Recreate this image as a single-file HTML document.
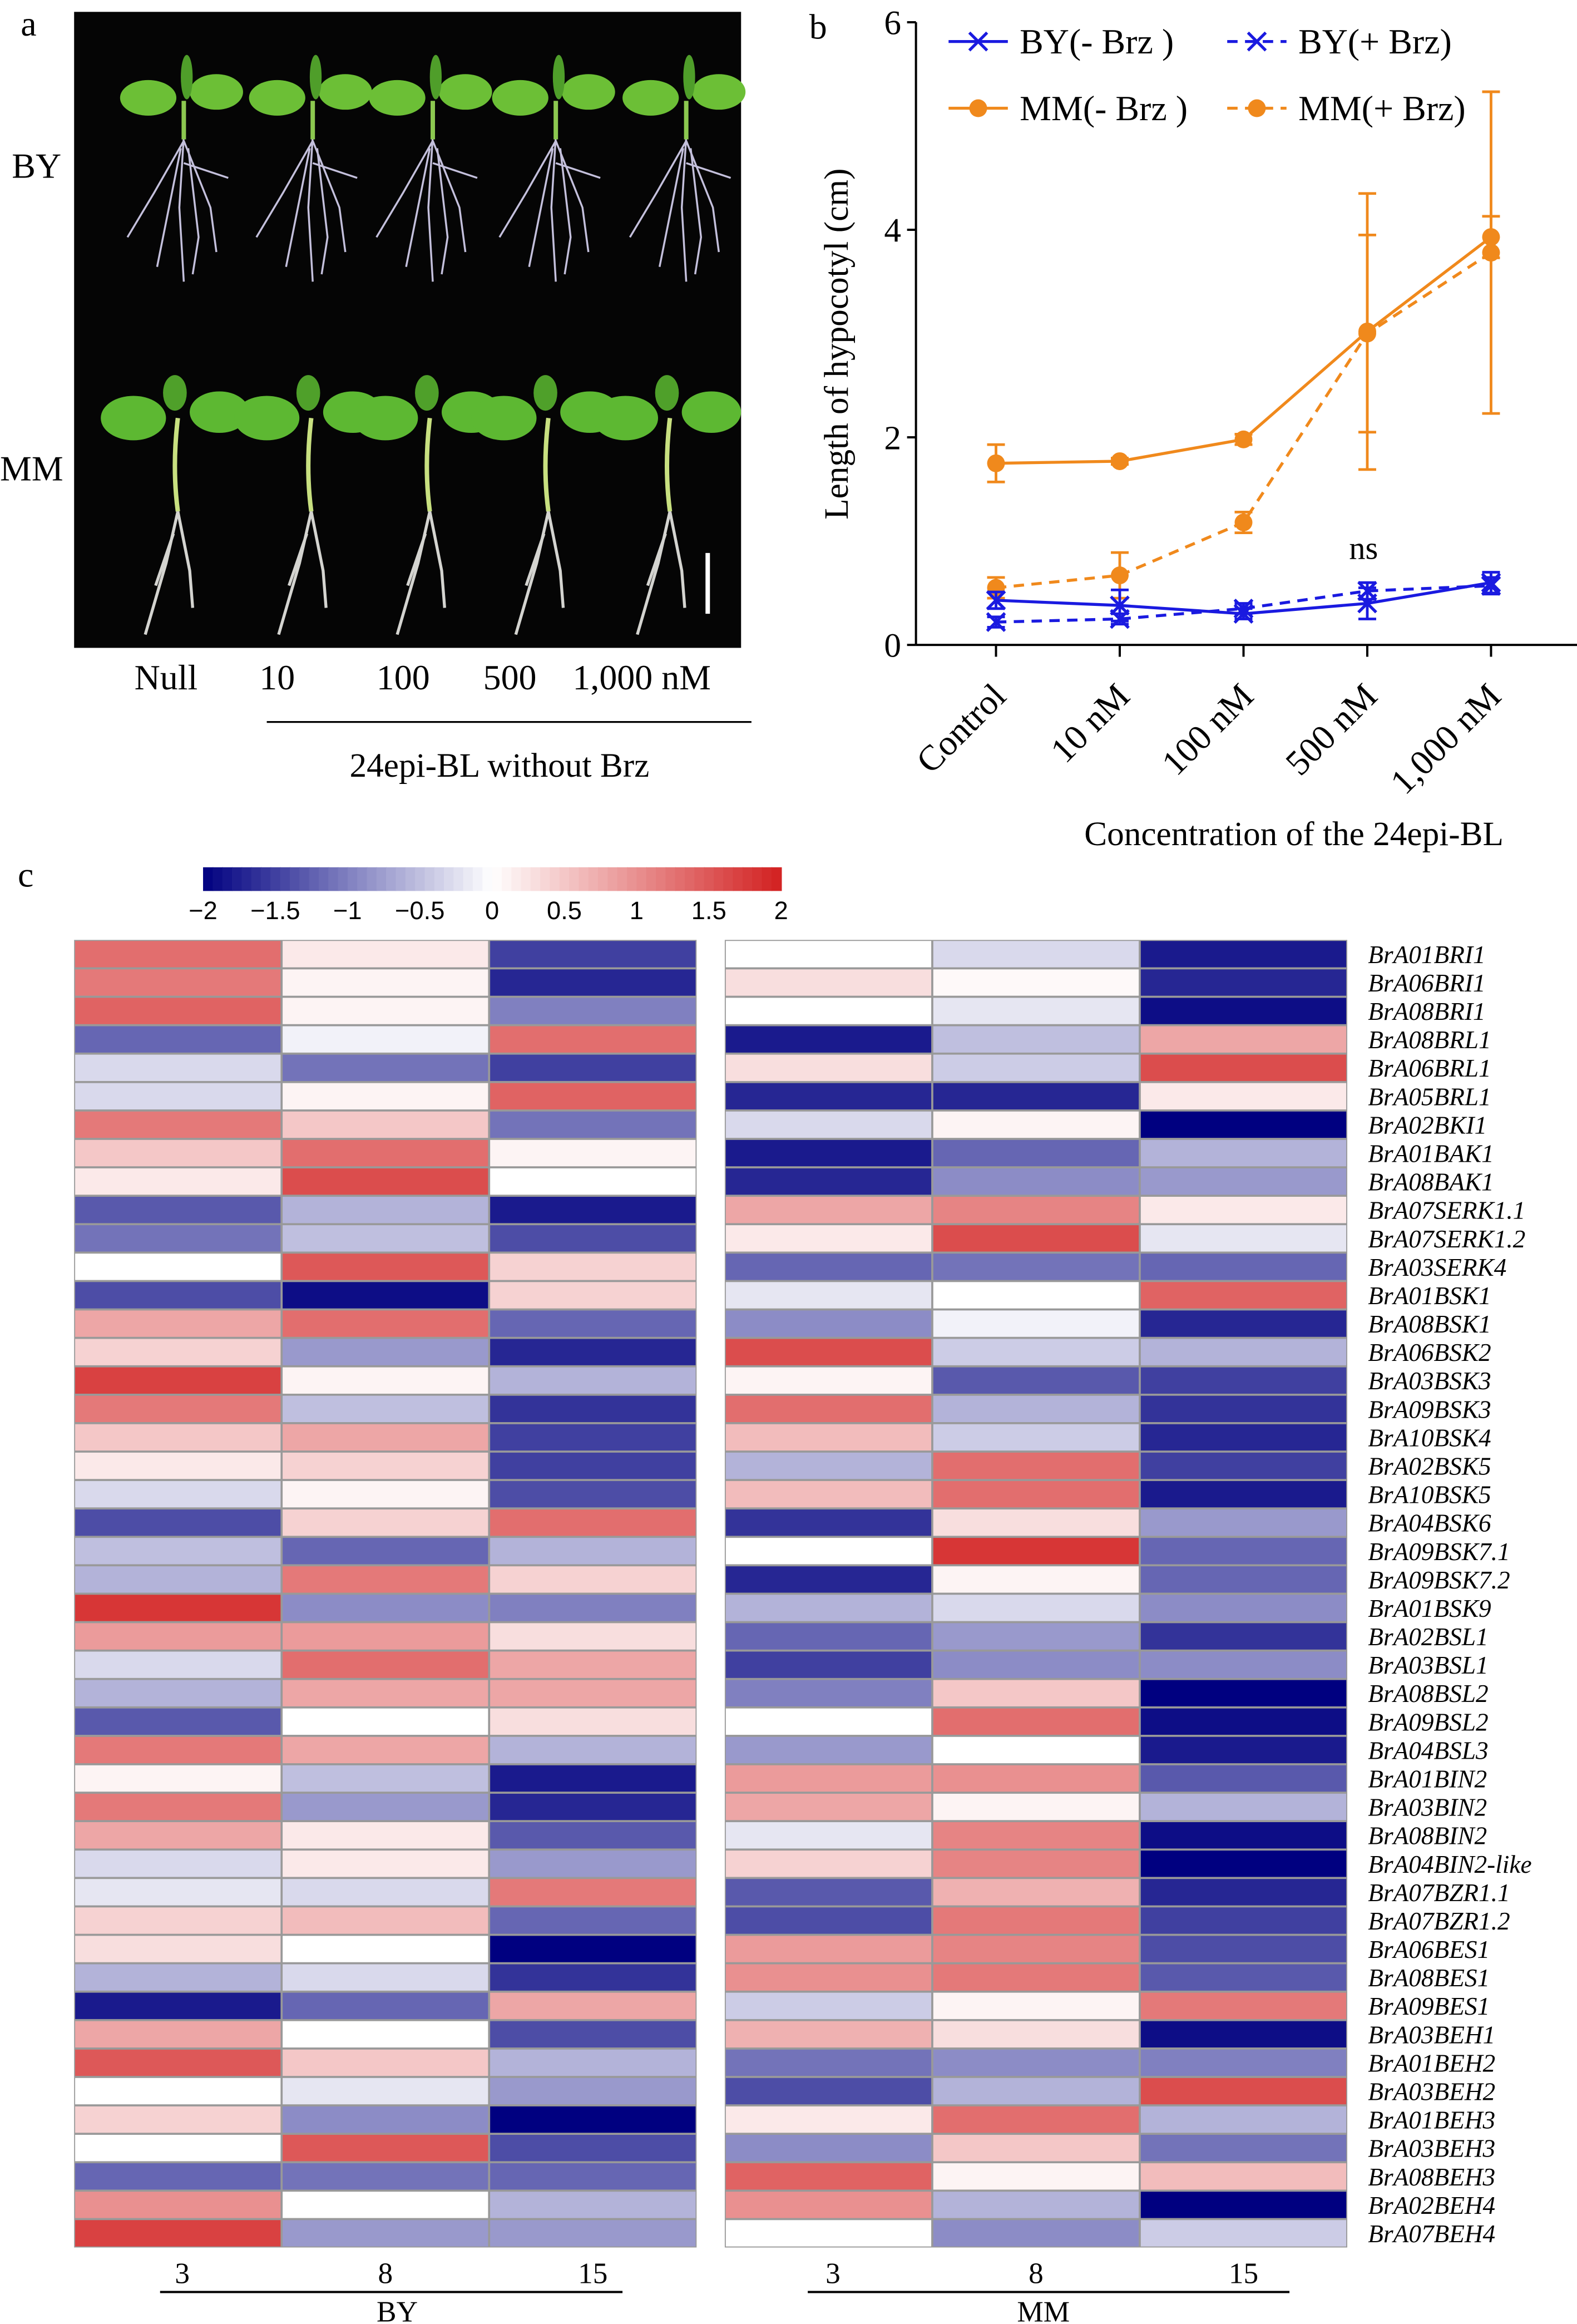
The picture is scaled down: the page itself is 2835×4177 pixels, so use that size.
<!DOCTYPE html>
<html><head><meta charset="utf-8">
<style>
html,body{margin:0;padding:0;background:#fff;}
svg{display:block;}
text{font-family:"Liberation Serif",serif;fill:#000;}
</style></head>
<body>
<svg id="fig" xmlns="http://www.w3.org/2000/svg" width="2835" height="4177" viewBox="0 0 1064 1567.6" preserveAspectRatio="none">
<g id="panelA">
  <text x="14" y="24" font-size="24">a</text>
  <rect x="50" y="8" width="450" height="429" fill="#050505"/>
  <text x="8" y="120" font-size="24">BY</text>
  <text x="0" y="324" font-size="24">MM</text>
  <rect x="476" y="373" width="3" height="41" fill="#fff"/>
  <g id="seedlings"></g>
  <text x="112" y="465" font-size="24" text-anchor="middle">Null</text>
  <text x="187" y="465" font-size="24" text-anchor="middle">10</text>
  <text x="272" y="465" font-size="24" text-anchor="middle">100</text>
  <text x="344" y="465" font-size="24" text-anchor="middle">500</text>
  <text x="433" y="465" font-size="24" text-anchor="middle">1,000 nM</text>
  <line x1="180" y1="487" x2="507" y2="487" stroke="#000" stroke-width="1.2"/>
  <text x="337" y="524" font-size="23" text-anchor="middle">24epi-BL without Brz</text>
</g>
<g id="panelB">
  <text x="546" y="26" font-size="24">b</text>
</g>
<g id="panelC">
  <text x="12" y="598" font-size="24">c</text>
</g>
</svg>
<script>
// ---------- Panel B data ----------
const categories = ["Control","10 nM","100 nM","500 nM","1,000 nM"];
const yTicks = [0,2,4,6];
const byMinus = [0.43,0.38,0.30,0.40,0.60];
const byMinusErr = [0.08,0.15,0.05,0.15,0.10];
const byPlus = [0.22,0.25,0.35,0.52,0.57];
const byPlusErr = [0.05,0.05,0.05,0.08,0.08];
const mmMinus = [1.75,1.77,1.98,3.02,3.93];
const mmMinusErr = [0.18,0.03,0.05,1.33,0.20];
const mmPlus = [0.55,0.67,1.18,3.00,3.78];
const mmPlusErr = [0.10,0.22,0.10,0.95,1.55];

// ---------- Panel C data ----------
const genes = ["BrA01BRI1","BrA06BRI1","BrA08BRI1","BrA08BRL1","BrA06BRL1","BrA05BRL1","BrA02BKI1","BrA01BAK1","BrA08BAK1","BrA07SERK1.1","BrA07SERK1.2","BrA03SERK4","BrA01BSK1","BrA08BSK1","BrA06BSK2","BrA03BSK3","BrA09BSK3","BrA10BSK4","BrA02BSK5","BrA10BSK5","BrA04BSK6","BrA09BSK7.1","BrA09BSK7.2","BrA01BSK9","BrA02BSL1","BrA03BSL1","BrA08BSL2","BrA09BSL2","BrA04BSL3","BrA01BIN2","BrA03BIN2","BrA08BIN2","BrA04BIN2-like","BrA07BZR1.1","BrA07BZR1.2","BrA06BES1","BrA08BES1","BrA09BES1","BrA03BEH1","BrA01BEH2","BrA03BEH2","BrA01BEH3","BrA03BEH3","BrA08BEH3","BrA02BEH4","BrA07BEH4"];
const timeLabels = ["3","8","15"];
const colorTicks = [-2,-1.5,-1,-0.5,0,0.5,1,1.5,2];
const byValues = [
[1.3,0.2,-1.5],[1.2,0.1,-1.7],[1.4,0.1,-1.0],[-1.2,-0.1,1.3],[-0.3,-1.1,-1.5],[-0.3,0.1,1.4],[1.2,0.5,-1.1],[0.5,1.3,0.1],[0.2,1.6,0],
[-1.3,-0.6,-1.8],[-1.1,-0.5,-1.4],[0,1.5,0.4],[-1.4,-1.9,0.4],[0.8,1.3,-1.2],[0.4,-0.8,-1.7],[1.7,0.1,-0.6],[1.2,-0.5,-1.6],[0.5,0.8,-1.5],
[0.2,0.4,-1.5],[-0.3,0.1,-1.4],[-1.4,0.4,1.3],[-0.5,-1.2,-0.6],[-0.6,1.2,0.4],[1.8,-0.9,-1.0],[0.9,0.9,0.3],[-0.3,1.3,0.8],[-0.6,0.8,0.8],
[-1.3,0,0.3],[1.2,0.8,-0.6],[0.1,-0.5,-1.8],[1.2,-0.8,-1.7],[0.8,0.2,-1.3],[-0.3,0.2,-0.8],[-0.2,-0.3,1.2],[0.4,0.6,-1.2],[0.3,0,-2.0],
[-0.6,-0.3,-1.6],[-1.8,-1.2,0.8],[0.8,0,-1.4],[1.5,0.5,-0.6],[0,-0.2,-0.8],[0.4,-0.9,-2.0],[0,1.5,-1.4],[-1.2,-1.1,-1.2],[1.0,0,-0.6],[1.7,-0.8,-0.8]];
const mmValues = [
[0,-0.3,-1.8],[0.3,0.05,-1.7],[0,-0.2,-1.9],[-1.8,-0.5,0.8],[0.3,-0.4,1.6],[-1.7,-1.7,0.2],[-0.3,0.1,-2.0],[-1.8,-1.2,-0.6],[-1.7,-0.9,-0.8],
[0.8,1.1,0.2],[0.2,1.6,-0.2],[-1.2,-1.1,-1.2],[-0.2,0,1.4],[-0.9,-0.1,-1.7],[1.6,-0.4,-0.6],[0.1,-1.3,-1.5],[1.3,-0.6,-1.6],[0.6,-0.4,-1.7],
[-0.6,1.3,-1.5],[0.6,1.3,-1.8],[-1.6,0.3,-0.8],[0,1.8,-1.2],[-1.7,0.1,-1.2],[-0.6,-0.3,-0.9],[-1.2,-0.8,-1.6],[-1.5,-0.9,-0.9],[-1.0,0.5,-2.0],
[0,1.3,-1.9],[-0.8,0,-1.8],[0.9,1.0,-1.3],[0.8,0.1,-0.6],[-0.2,1.1,-1.9],[0.4,1.1,-2.0],[-1.3,0.7,-1.7],[-1.4,1.2,-1.5],[0.9,1.1,-1.4],
[1.0,1.2,-1.3],[-0.4,0.1,1.2],[0.7,0.3,-1.9],[-1.1,-0.9,-1.0],[-1.4,-0.6,1.6],[0.2,1.3,-0.6],[-0.9,0.5,-1.1],[1.4,0.1,0.6],[1.0,-0.6,-2.0],[0,-0.9,-0.4]];

const NS="http://www.w3.org/2000/svg";
function mk(tag,attrs,parent){const e=document.createElementNS(NS,tag);for(const k in attrs)e.setAttribute(k,attrs[k]);parent.appendChild(e);return e;}

// ---------- Seedlings (photo approximation) ----------
const sd=document.getElementById('seedlings');
const byX=[124,211,292,375,463], mmX=[120,210,290,370,452];
byX.forEach((x,i)=>{
  const g=mk('g',{},sd);
  
  
  mk('path',{d:`M${x} 92 L${x-3} 140 L${x} 190 M${x} 95 L${x-20} 130 L${x-38} 160 M${x} 95 L${x+18} 140 L${x+22} 170 M${x-2} 100 L${x-12} 150 L${x-18} 180 M${x+3} 100 L${x+10} 160 L${x+6} 185 M${x} 110 L${x+30} 120`,stroke:'#c4c0dc','stroke-width':1.3,fill:'none'},g);
  mk('line',{x1:x,y1:68,x2:x,y2:94,stroke:'#8cc850','stroke-width':3},g);
  mk('ellipse',{cx:x-24,cy:66,rx:19,ry:12,fill:'#6cbf36'},g);
  mk('ellipse',{cx:x+22,cy:62,rx:18,ry:12,fill:'#6cbf36'},g);
  mk('ellipse',{cx:x+2,cy:52,rx:4,ry:15,fill:'#4f9e2a'},g);
});
mmX.forEach((x,i)=>{
  const g=mk('g',{},sd);
  
  
  mk('path',{d:`M${x} 282 Q${x-4} 315 ${x} 345`,stroke:'#c8e080','stroke-width':3,fill:'none'},g);
  mk('path',{d:`M${x} 345 L${x-8} 380 L${x-22} 428 M${x} 345 L${x+8} 385 L${x+10} 410 M${x-3} 360 L${x-15} 395`,stroke:'#d4d4d0','stroke-width':2,fill:'none'},g);
  mk('ellipse',{cx:x-30,cy:282,rx:22,ry:15,fill:'#5db832'},g);
  mk('ellipse',{cx:x+28,cy:278,rx:20,ry:14,fill:'#5db832'},g);
  mk('ellipse',{cx:x-2,cy:265,rx:8,ry:12,fill:'#4fa02a'},g);
});

// ---------- Panel B ----------
const pB=document.getElementById('panelB');
const x0=618, xEnd=1064, yBase=435, yPerUnit=70;
const catX=i=>672+i*83.5;
const yS=v=>yBase-v*yPerUnit;
mk('line',{x1:x0,y1:yS(6),x2:x0,y2:yBase,stroke:'#000','stroke-width':1.5},pB);
mk('line',{x1:x0,y1:yBase,x2:xEnd,y2:yBase,stroke:'#000','stroke-width':1.5},pB);
yTicks.forEach(t=>{
  const l=mk('line',{x1:x0-6,y1:yS(t),x2:x0,y2:yS(t),stroke:'#000','stroke-width':1.5},pB);
  
  
  const tx=mk('text',{x:x0-10,y:yS(t)+8,'font-size':23,'text-anchor':'end'},pB);
  tx.textContent=t;
  
  
});
categories.forEach((c,i)=>{
  const l=mk('line',{x1:catX(i),y1:yBase,x2:catX(i),y2:yBase+8,stroke:'#000','stroke-width':1.5},pB);
  
  
  const ax=catX(i)+8, ay=yBase+36;
  const tx=mk('text',{x:ax,y:ay,'font-size':24,'text-anchor':'end',transform:`rotate(-45 ${ax} ${ay})`},pB);
  tx.textContent=c;
  
  
});
const yt=mk('text',{x:572,y:232,'font-size':23,'text-anchor':'middle',transform:'rotate(-90 572 232)'},pB);
yt.textContent='Length of hypocotyl (cm)';


const xt=mk('text',{x:873,y:570,'font-size':23,'text-anchor':'middle'},pB);
xt.textContent='Concentration of the 24epi-BL';


const ns=mk('text',{x:920,y:377,'font-size':22,'text-anchor':'middle'},pB);
ns.textContent='ns';



const BLUE='#1a1ae0', ORANGE='#f0891c';
function drawSeries(vals,errs,color,dash,marker,name){
  const g=mk('g',{},pB);
  
  
  mk('polyline',{points:vals.map((v,i)=>catX(i)+','+yS(v)).join(' '),fill:'none',stroke:color,'stroke-width':2,'stroke-dasharray':dash?'7 5':'none'},g);
  vals.forEach((v,i)=>{
    const x=catX(i), t=yS(v+errs[i]), b=yS(v-errs[i]);
    const eb=mk('path',{d:`M${x} ${t} L${x} ${b} M${x-6} ${t} L${x+6} ${t} M${x-6} ${b} L${x+6} ${b}`,stroke:color,'stroke-width':1.8,fill:'none'},g);
    
    
    let m;
    if(marker==='o'){m=mk('circle',{cx:x,cy:yS(v),r:6,fill:color},g);}
    else{const y=yS(v);m=mk('path',{d:`M${x-6} ${y-6}L${x+6} ${y+6}M${x-6} ${y+6}L${x+6} ${y-6}`,stroke:color,'stroke-width':2},g);}
    
    
  });
}
drawSeries(mmMinus,mmMinusErr,ORANGE,false,'o','series-mm-minus-brz');
drawSeries(mmPlus,mmPlusErr,ORANGE,true,'o','series-mm-plus-brz');
drawSeries(byMinus,byMinusErr,BLUE,false,'x','series-by-minus-brz');
drawSeries(byPlus,byPlusErr,BLUE,true,'x','series-by-plus-brz');

// legend
const legendItems=[["BY(- Brz )",BLUE,false,'x',640,28],["BY(+ Brz)",BLUE,true,'x',828,28],["MM(- Brz )",ORANGE,false,'o',640,73],["MM(+ Brz)",ORANGE,true,'o',828,73]];
legendItems.forEach(it=>{
  const g=mk('g',{},pB);
  
  
  const [lab,col,dash,mkr,lx,ly]=it;
  mk('line',{x1:lx,y1:ly,x2:lx+40,y2:ly,stroke:col,'stroke-width':2,'stroke-dasharray':dash?'7 5':'none'},g);
  if(mkr==='o')mk('circle',{cx:lx+20,cy:ly,r:6,fill:col},g);
  else mk('path',{d:`M${lx+14} ${ly-6}L${lx+26} ${ly+6}M${lx+14} ${ly+6}L${lx+26} ${ly-6}`,stroke:col,'stroke-width':2},g);
  const t=mk('text',{x:lx+48,y:ly+8,'font-size':24},g);
  t.textContent=lab;
});

// ---------- Panel C ----------
const pC=document.getElementById('panelC');
function color(v){
  v=Math.max(-2,Math.min(2,v));
  let c;
  if(v<0){const f=-v/2;c=[255+(0-255)*f,255+(0-255)*f,255+(128-255)*f];}
  else{const f=v/2;c=[255+(210-255)*f,255+(32-255)*f,255+(32-255)*f];}
  return `rgb(${c.map(Math.round).join(',')})`;
}
const cbX0=137,cbX1=527,cbY=585,cbH=16;
const cbS=v=>cbX0+(v+2)/4*(cbX1-cbX0);
const cb=mk('g',{},pC);


for(let k=0;k<60;k++){
  const v0=-2+k*4/60;
  mk('rect',{x:cbS(v0),y:cbY,width:(cbX1-cbX0)/60+0.5,height:cbH,fill:color(v0+2/60)},cb);
}
colorTicks.forEach(t=>{
  const tx=mk('text',{x:cbS(t),y:620,'font-size':17,'text-anchor':'middle',style:'font-family:"Liberation Sans Narrow","Liberation Sans",sans-serif'},pC);
  tx.textContent=(t<0?'\u2212':'')+Math.abs(t);
  
  
});
const hmTop=634,hmBot=1516,rowH=(hmBot-hmTop)/genes.length,colW=140;
function heat(vals,x0,name){
  const g=mk('g',{},pC);
  
  
  mk('rect',{x:x0,y:hmTop,width:colW*3,height:hmBot-hmTop,fill:'#999'},g);
  vals.forEach((row,r)=>row.forEach((v,c)=>{
    const cell=mk('rect',{x:x0+c*colW+0.7,y:hmTop+r*rowH+0.7,width:colW-1.4,height:rowH-1.4,fill:color(v)},g);
    
    
  }));
  timeLabels.forEach((t,c)=>{
    const tx=mk('text',{x:x0+c*colW+70+(c==0?3:0),y:1540,'font-size':20,'text-anchor':'middle'},pC);
    tx.textContent=t;
    
    
  });
}
heat(byValues,50,'heatmap-by');
heat(mmValues,489,'heatmap-mm');
genes.forEach((gname,r)=>{
  const tx=mk('text',{x:923,y:hmTop+r*rowH+rowH/2+6,'font-size':17,'font-style':'italic'},pC);
  tx.textContent=gname;
  
  
});
[[108,420,268,'BY'],[545,870,704,'MM']].forEach(b=>{
  const l=mk('line',{x1:b[0],y1:1546,x2:b[1],y2:1546,stroke:'#000','stroke-width':1.5},pC);
  
  
  const tx=mk('text',{x:b[2],y:1566,'font-size':20,'text-anchor':'middle'},pC);
  tx.textContent=b[3];
  
  
});
</script>
</body></html>
